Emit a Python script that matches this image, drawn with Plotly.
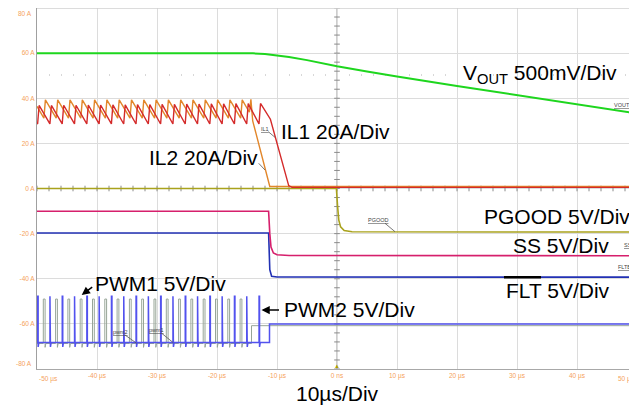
import plotly.graph_objects as go
import numpy as np

# ---------------- data ----------------
VOUT_T = [-50, -16, -14, -12, -10, -8, -5, -2, 0, 5, 10, 20, 30, 40, 50]
VOUT_V = [60.0, 60.0, 59.9, 59.6, 59.1, 58.3, 56.9, 55.3, 54.2, 51.9, 49.6, 45.4, 41.4, 37.4, 33.3]

# inductor current sawtooth: peak times (us), peak and trough values (A)
IL1_PEAK_T = [-49.65, -47.60, -45.55, -43.50, -41.45, -39.40, -37.35, -35.30, -33.25, -31.20,
              -29.15, -27.10, -25.05, -23.00, -20.95, -18.90, -16.85, -14.80, -12.75]
IL1_PEAK = [36.8, 36.8, 36.9, 36.9, 37.0, 37.0, 37.1, 37.1, 37.2, 37.2,
            37.3, 37.3, 37.4, 37.4, 37.5, 37.5, 37.6, 37.6, 37.7]
IL1_TROUGH = [28.6] * 19
IL1_START = 28.9
IL1_TAIL_T = [-11.1, -8.05, -7.5, 50]
IL1_TAIL_V = [30.7, 1.3, 0.5, 0.5]

IL2_PEAK_T = [-48.60, -46.55, -44.50, -42.45, -40.40, -38.35, -36.30, -34.25, -32.20, -30.15,
              -28.10, -26.05, -24.00, -21.95, -19.90, -17.85, -15.80, -14.35]
IL2_PEAK = [39.3] * 17 + [39.5]
IL2_TROUGH = [31.2] * 17 + [33.8]
IL2_START = 36.4
IL2_TAIL_T = [-14.05, -11.2, 50]
IL2_TAIL_V = [30.0, 0.9, 0.9]

PGOOD_T = [-50, -0.1, 0.1, 0.3, 0.6, 1.2, 2.5, 50]
PGOOD_V = [0.0, 0.0, -8.0, -14.0, -17.0, -18.6, -19.2, -19.3]

SS_T = [-50, -11.4, -11.2, -11.0, -10.6, -10.0, -8.0, 50]
SS_V = [-10.1, -10.1, -20.0, -26.0, -28.6, -29.4, -29.7, -29.8]

FLT_T = [-50, -11.4, -11.2, -10.9, -10.0, 50]
FLT_V = [-19.7, -19.7, -36.0, -38.9, -39.2, -39.3]

# PWM pulse times (us) and levels (A-scale divisions)
PWM2_T = [-49.85, -47.80, -45.75, -43.70, -41.65, -39.60, -37.55, -35.50, -33.45, -31.40,
          -29.35, -27.30, -25.25, -23.20, -21.15, -19.10, -17.05, -15.00, -12.95]
PWM2_BASE, PWM2_TOP, PWM2_UNDER = -68.2, -47.8, -70.2
PWM2_END_T, PWM2_END_V = -11.25, -60.0

PWM1_T = [-48.80, -46.75, -44.70, -42.65, -40.60, -38.55, -36.50, -34.45, -32.40, -30.35,
          -28.30, -26.25, -24.20, -22.15, -20.10, -18.05, -16.00]
PWM1_BASE, PWM1_TOP, PWM1_UNDER = -68.7, -49.0, -70.4
PWM1_END_T, PWM1_END_V = -14.25, -60.8

X_TICKS = [-40, -30, -20, -10, 0, 10, 20, 30, 40]
X_TICK_TEXT = ["-40 µs", "-30 µs", "-20 µs", "-10 µs", "0 ns", "10 µs", "20 µs", "30 µs", "40 µs"]
Y_TICKS = [60, 40, 20, 0, -20, -40, -60]
Y_TICK_TEXT = ["60 A", "40 A", "20 A", "0 A", "-20 A", "-40 A", "-60 A"]
Y_EDGE_TEXT = ["80 A", "-80 A"]

# ---------------- helpers ----------------
# page pixel geometry of the plot area (page has an 8px body margin)
PAGE = 8
L, T, W, H = 37, 8, 600, 361


def X(px):
    return -50 + (px - L) / W * 100


def Y(py):
    return 80 - (py - T) / H * 160


def saw(start, peak_t, peaks, troughs, tail_t, tail_v, rise=0.25):
    xs, ys = [-50], [start]
    for t, p, tr in zip(peak_t, peaks, troughs):
        xs += [t - rise, t]
        ys += [tr, p]
    return xs + tail_t, ys + tail_v


def pulses(times, base, top, under, end_t, end_v, w):
    xs, ys = [-50], [base]
    for t in times:
        xs += [t - w / 2, t - w / 2, t + w / 2, t + w / 2, t + w / 2 + 0.12]
        ys += [base, top, top, under, base]
    xs += [end_t, end_t, 50]
    ys += [base, end_v, end_v]
    return xs, ys


fig = go.Figure()

# decorations: centre cross tick marks
fig.add_shape(type="line", x0=0, x1=0, y0=-80, y1=80, line=dict(color="#9a9a9a", width=1), layer="below")
fig.add_trace(go.Scatter(x=[0] * 41, y=list(np.arange(-80, 81, 4)), mode="markers",
                         marker=dict(symbol="line-ew", size=4, line=dict(color="#8a8a8a", width=1)),
                         hoverinfo="skip", showlegend=False))
fig.add_trace(go.Scatter(x=list(np.arange(-50, 51, 2)), y=[0] * 51, mode="markers",
                         marker=dict(symbol="line-ns", size=4, line=dict(color="#8a8a8a", width=1)),
                         hoverinfo="skip", showlegend=False))
# dotted cursor line
fig.add_shape(type="line", x0=X(49), x1=X(628), y0=Y(75), y1=Y(75),
              line=dict(color="#b0b0b0", width=1, dash="1px,11px"), layer="below")

# PWM traces
x1, y1 = pulses(PWM1_T, PWM1_BASE, PWM1_TOP, PWM1_UNDER, PWM1_END_T, PWM1_END_V, 0.3)
fig.add_trace(go.Scatter(x=x1, y=y1, mode="lines", line=dict(color="#97a597", width=1),
                         name="PWM1", showlegend=False))
x2, y2 = pulses(PWM2_T, PWM2_BASE, PWM2_TOP, PWM2_UNDER, PWM2_END_T, PWM2_END_V, 0.08)
fig.add_trace(go.Scatter(x=x2, y=y2, mode="lines", line=dict(color="#5252ee", width=1.5),
                         name="PWM2", showlegend=False))

fig.add_trace(go.Scatter(x=FLT_T, y=FLT_V, mode="lines", line=dict(color="#2231b4", width=1.6),
                         name="FLT", showlegend=False))
fig.add_trace(go.Scatter(x=SS_T, y=SS_V, mode="lines", line=dict(color="#d61f6c", width=1.6),
                         name="SS", showlegend=False))
fig.add_trace(go.Scatter(x=PGOOD_T, y=PGOOD_V, mode="lines", line=dict(color="#a9a21c", width=1.6),
                         name="PGOOD", showlegend=False))

xi2, yi2 = saw(IL2_START, IL2_PEAK_T, IL2_PEAK, IL2_TROUGH, IL2_TAIL_T, IL2_TAIL_V)
fig.add_trace(go.Scatter(x=xi2, y=yi2, mode="lines", line=dict(color="#e2862a", width=1.4),
                         name="IL2", showlegend=False))
xi1, yi1 = saw(IL1_START, IL1_PEAK_T, IL1_PEAK, IL1_TROUGH, IL1_TAIL_T, IL1_TAIL_V)
fig.add_trace(go.Scatter(x=xi1, y=yi1, mode="lines", line=dict(color="#d42a2a", width=1.4),
                         name="IL1", showlegend=False))

fig.add_trace(go.Scatter(x=VOUT_T, y=VOUT_V, mode="lines", line=dict(color="#1ed61e", width=2),
                         name="VOUT", showlegend=False))

# ---------------- annotations ----------------
FONT = "Arial, Liberation Sans, sans-serif"
big = dict(family=FONT, size=21, color="black")
ann = []


def label(text, px, py, anchor="left", font=big, **kw):
    ann.append(dict(text=text, x=X(px), y=Y(py), xref="x", yref="y", xanchor=anchor,
                    yanchor="middle", showarrow=False, font=font, **kw))


label("V<sub>OUT</sub> 500mV/Div", 619, 74, "right")
label("IL1 20A/Div", 279, 131.7)
label("IL2 20A/Div", 259.5, 157.3, "right")
label("PGOOD 5V/Div", 481.5, 216.7)
label("SS 5V/Div", 510.7, 245)
label("FLT 5V/Div", 504, 290)
label("PWM1 5V/Div", 93.3, 283.3)
label("PWM2 5V/Div", 281.7, 309.3)
ann.append(dict(text="10µs/Div", x=0.5, y=(369 - 393) / H, xref="paper", yref="paper",
                xanchor="center", yanchor="middle", showarrow=False, font=big))

# arrows
ann.append(dict(text="", x=X(81.7), y=Y(295), xref="x", yref="y", showarrow=True,
                ax=12, ay=-9, arrowhead=2, arrowsize=1.1, arrowwidth=1.5, arrowcolor="black"))
ann.append(dict(text="", x=X(261.5), y=Y(310), xref="x", yref="y", showarrow=True,
                ax=19, ay=0, arrowhead=2, arrowsize=1.1, arrowwidth=1.5, arrowcolor="black"))

# FLT overbar
fig.add_shape(type="line", x0=X(504), x1=X(541), y0=Y(277.3), y1=Y(277.3),
              line=dict(color="black", width=2.5))

# small probe labels with leader lines
small = dict(family=FONT, size=5.5, color="#444444")
for txt, px, py, lx0, ly0, lx1, ly1 in [
    ("<u>VOUT</u>", 622, 105, 629, 108, 636, 113),
    ("<u>IL1</u>", 265, 129.3, 268.3, 131.7, 275, 137.3),
    ("<u>PGOOD</u>", 378.3, 220, 385, 223.3, 395, 231.7),
    ("<u>SS</u>", 627.5, 245, 630.7, 248.3, 636, 253.3),
    ("<u>FLTB</u>", 624, 266.7, 629, 270, 636, 276.7),
    ("<u>pwm2</u>", 120, 331.7, 125, 335, 136.7, 343.3),
    ("<u>pwm1</u>", 156, 330, 161.7, 333.3, 173.3, 342.7),
]:
    label(txt, px, py, "center", font=small)
    fig.add_shape(type="line", x0=X(lx0), y0=Y(ly0), x1=X(lx1), y1=Y(ly1),
                  line=dict(color="#555555", width=0.8))
fig.add_shape(type="line", x0=X(258.7), y0=Y(163.3), x1=X(265), y1=Y(170),
              line=dict(color="#555555", width=0.8))

# channel markers on left edge
chan = [("C4", 33, 141, "#33cc33", 0), ("C1", 33, 228, "#b0a000", 0),
        ("C2", 33, 252, "#d61f6c", -90), ("C3", 33, 275, "#3040c0", -90),
        ("C6", 33, 339, "#7070d0", 0)]
for txt, px, py, col, ang in chan:
    ann.append(dict(text=txt, x=X(px), y=Y(py), xref="x", yref="y", showarrow=False,
                    textangle=ang, font=dict(family=FONT, size=5, color=col)))
ann.append(dict(text="C5", x=X(33), y=Y(184.5), xref="x", yref="y", showarrow=False,
                bgcolor="#e8861a", bordercolor="#b05a00", borderwidth=0.5, borderpad=1,
                font=dict(family=FONT, size=5, color="#6a3a00")))
# trigger marker
ann.append(dict(text="▲", x=0, y=Y(366), xref="x", yref="y", showarrow=False,
                font=dict(family=FONT, size=6, color="#b0a000")))

# edge tick labels
tick_font = dict(family=FONT, size=6.5, color="#f5a25d")
ann.append(dict(text="-50 µs", x=-50, y=0, xref="x", yref="paper", xanchor="left",
                yanchor="top", yshift=-4, showarrow=False, font=tick_font))
ann.append(dict(text="50 µs", x=50, y=0, xref="x", yref="paper", xanchor="right",
                yanchor="top", yshift=-4, showarrow=False, font=tick_font))
ann.append(dict(text=Y_EDGE_TEXT[0], x=0, y=80, xref="paper", yref="y", xanchor="right",
                yanchor="top", xshift=-3, showarrow=False, font=tick_font))
ann.append(dict(text=Y_EDGE_TEXT[1], x=0, y=-80, xref="paper", yref="y", xanchor="right",
                yanchor="bottom", xshift=-3, showarrow=False, font=tick_font))

fig.update_layout(
    width=637 - PAGE, height=407 - PAGE,
    margin=dict(l=L - PAGE, r=0, t=T - PAGE, b=407 - T - H),
    paper_bgcolor="white", plot_bgcolor="white",
    showlegend=False,
    annotations=ann,
    xaxis=dict(range=[-50, 50], tickvals=X_TICKS, ticktext=X_TICK_TEXT, tickfont=tick_font,
               showgrid=True, gridcolor="#dcdcdc", gridwidth=1, zeroline=False,
               showline=True, linecolor="#a8a8a8", linewidth=1, mirror=False,
               ticks="", automargin=False, fixedrange=True),
    yaxis=dict(range=[-80, 80], tickvals=Y_TICKS, ticktext=Y_TICK_TEXT, tickfont=tick_font,
               showgrid=True, gridcolor="#dcdcdc", gridwidth=1, zeroline=False,
               showline=True, linecolor="#a0a0a0", linewidth=1, mirror=False,
               ticks="", automargin=False, fixedrange=True),
)
# top border
fig.add_shape(type="line", xref="paper", yref="paper", x0=0, x1=1, y0=1, y1=1,
              line=dict(color="#d0d0d0", width=1.5))

fig.write_html("out.html")
